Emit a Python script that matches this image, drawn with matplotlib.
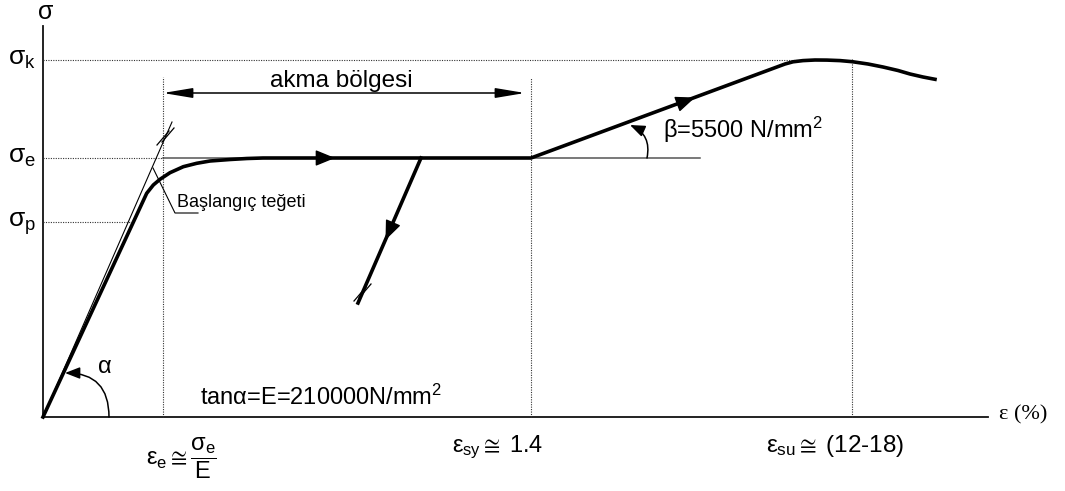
import numpy as np
import matplotlib.pyplot as plt

plt.rcParams['font.family'] = ['Liberation Sans', 'DejaVu Sans']
plt.rcParams['mathtext.fontset'] = 'custom'
plt.rcParams['mathtext.rm'] = 'Liberation Sans'
plt.rcParams['mathtext.it'] = 'Liberation Sans'
plt.rcParams['mathtext.bf'] = 'Liberation Sans:bold'
plt.rcParams['mathtext.fallback'] = 'stixsans'

# schematic strain / stress levels (drawing units, origin at axis corner)
eps_e, eps_sy, eps_su = 120, 488, 809
sig_p, sig_e, sig_k = 195, 259, 357

# steel stress-strain curve
curve_x = [0, 103.7, 110.3, 117, 127, 140.3, 153.7, 167, 187, 204, 220,
           488, 742, 750, 760, 772, 784, 797, 809.3, 825, 840, 855, 867, 880, 892]
curve_y = [0, 223.7, 232, 237.7, 244.3, 250.3, 253.7, 256, 257.5, 258.5, 259,
           259, 353, 355.2, 356.4, 357, 356.9, 356.4, 355.3, 353, 350, 346.5, 343, 340, 337.7]

# unloading branch and initial tangent
unload_x = [378, 315]
unload_y = [259, 114]
tangent_x = [0, 129]
tangent_y = [0, 295]

y_labels = ['$σ_k$', '$σ_e$', '$σ_p$']
y_levels = [sig_k, sig_e, sig_p]

fig = plt.figure(figsize=(10.65, 4.91), dpi=100)
ax = fig.add_axes([0, 0, 1, 1])
ax.set_xlim(-43, 1022)
ax.set_ylim(-74, 417)
ax.axis('off')

dot = dict(color='#333333', lw=0.8, ls=(0, (1, 1.2)))

# axes
ax.plot([0, 945], [0, 0], color='#111111', lw=1.3)
ax.plot([0, 0], [0, 391], color='#111111', lw=1.3)

# reference lines
ax.plot([0, 767], [sig_k, sig_k], **dot)
ax.plot([0, eps_e], [sig_e, sig_e], **dot)
ax.plot([eps_e, 657], [sig_e, sig_e], color='#555555', lw=1.1)
ax.plot([0, 88], [sig_p, sig_p], **dot)
ax.plot([eps_e, eps_e], [0, 340], **dot)
ax.plot([eps_sy, eps_sy], [0, 339], **dot)
ax.plot([eps_su, eps_su], [0, 359], **dot)

# tangent and curves
ax.plot(tangent_x, tangent_y, color='k', lw=0.8)
ax.plot(curve_x, curve_y, color='k', lw=2.6, solid_joinstyle='round', zorder=5)
ax.plot(unload_x, unload_y, color='k', lw=2.6, zorder=5)

# break marks
for cx, cy in [(120, 279), (125, 282)]:
    ax.plot([cx - 6, cx + 6], [cy - 7, cy + 7], color='k', lw=0.9)
for cx, cy in [(317, 123), (322, 126)]:
    ax.plot([cx - 6, cx + 6], [cy - 7, cy + 7], color='k', lw=0.9, zorder=6)

# direction arrows on the curve
head = dict(arrowstyle='-|>,head_length=1.1,head_width=0.45', color='k',
            lw=1, shrinkA=0, shrinkB=0, mutation_scale=11)
ax.annotate('', xy=(292, sig_e), xytext=(270, sig_e), arrowprops=head, zorder=6)
ax.annotate('', xy=(652, 319.5), xytext=(632, 312.1), arrowprops=head, zorder=6)
ax.annotate('', xy=(342.5, 177), xytext=(350.5, 195.4), arrowprops=head, zorder=6)

# yield plateau dimension
ax.annotate('', xy=(120, 324), xytext=(482, 324),
            arrowprops=dict(arrowstyle='<|-|>,head_length=1.8,head_width=0.3',
                            color='k', lw=1.1, shrinkA=0, shrinkB=0,
                            mutation_scale=10))
ax.text(227, 330, 'akma bölgesi', fontsize=17.5, ha='left', va='baseline')

# angle arcs
arc = dict(arrowstyle='-|>,head_length=0.9,head_width=0.35', color='k', lw=1.1,
           shrinkA=0, shrinkB=0, mutation_scale=10,
           connectionstyle='arc3,rad=0.5')
ax.annotate('', xy=(22, 44), xytext=(66, 0), arrowprops=arc)
arc['connectionstyle'] = 'arc3,rad=0.4'
ax.annotate('', xy=(587, 292), xytext=(604, 259), arrowprops=arc)

ax.text(62, 50, 'α', fontsize=17, ha='center', va='center')
ax.text(157, 12, 'tanα=E=210000N/mm$^2$', fontsize=17, ha='left', va='baseline')
ax.text(620, 279, 'β=5500 N/mm$^2$', fontsize=17, ha='left', va='baseline')

# initial tangent label with leader
ax.plot([110, 132, 155], [249, 204, 204], color='k', lw=0.8)
ax.text(134, 210, 'Başlangıç teğeti', fontsize=13, ha='left', va='baseline')

# axis labels
ax.text(3, 405, 'σ', fontsize=18, ha='center', va='center')
ax.text(956, 2, 'ε (%)', fontsize=16, ha='left', va='center',
        family='Liberation Serif')
for lab, lev in zip(y_labels, y_levels):
    ax.text(-35, lev - 5, lab, fontsize=19, ha='left', va='baseline')

ax.text(103, -41, r'$ε_e\cong\dfrac{σ_e}{E}$', fontsize=17, ha='left', va='center')
ax.text(409, -35, r'$ε_{sy}\cong\;$1.4', fontsize=17, ha='left', va='baseline')
ax.text(723, -35, r'$ε_{su}\cong\;$(12-18)', fontsize=17.5, ha='left', va='baseline')

fig.savefig('out.png', dpi=100)
